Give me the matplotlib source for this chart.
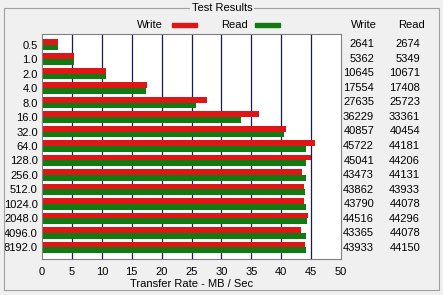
import matplotlib.pyplot as plt
from matplotlib.patches import Rectangle

# data (KB/s as shown in the table)
sizes = ['0.5', '1.0', '2.0', '4.0', '8.0', '16.0', '32.0', '64.0', '128.0',
         '256.0', '512.0', '1024.0', '2048.0', '4096.0', '8192.0']
write = [2641, 5362, 10645, 17554, 27635, 36229, 40857, 45722, 45041,
         43473, 43862, 43790, 44516, 43365, 43933]
read = [2674, 5349, 10671, 17408, 25723, 33361, 40454, 44181, 44206,
        44131, 43933, 44078, 44296, 44078, 44150]

FONT = ['Liberation Sans Narrow', 'Liberation Sans', 'DejaVu Sans']
plt.rcParams['font.family'] = FONT
plt.rcParams['font.size'] = 7.5

W, H = 443, 295
fig = plt.figure(figsize=(W / 100, H / 100), dpi=100, facecolor='#f0f0f0')

RED = '#e01515'
GREEN = '#117a11'

# group box
fig.add_artist(Rectangle((4 / W, 1 - 290 / H), 435 / W, 282 / H, transform=fig.transFigure,
                         fill=False, edgecolor='#a0a0a0', linewidth=0.8))
fig.text(222 / W, 1 - 8 / H, 'Test Results', ha='center', va='center', fontsize=8,
         bbox=dict(facecolor='#f0f0f0', edgecolor='none', pad=1))

# main plot
ax = fig.add_axes([42 / W, 1 - 259 / H, 299 / W, 225 / H])
ax.set_facecolor('white')
y = list(range(len(sizes)))
ax.barh([i - 0.2 for i in y], [v / 1000 for v in write], height=0.4, color=RED, zorder=2)
ax.barh([i + 0.2 for i in y], [v / 1000 for v in read], height=0.4, color=GREEN, zorder=2)
ax.set_xlim(0, 50)
ax.set_ylim(len(sizes) - 0.2, -0.73)
ax.set_xticks(range(0, 51, 5))
ax.set_yticks(y)
ax.set_yticklabels(sizes, fontsize=8)
ax.tick_params(length=0, labelsize=8)
ax.tick_params(axis='x', pad=6)
ax.tick_params(axis='y', pad=3)
for x in range(5, 50, 5):
    ax.axvline(x, color='#1a1a50', linewidth=0.9, zorder=1)
for s in ax.spines.values():
    s.set_color('#808080')
    s.set_linewidth(0.8)
ax.set_xlabel('Transfer Rate - MB / Sec', fontsize=8, labelpad=1)

# legend
fig.text(163 / W, 1 - 25 / H, 'Write', ha='right', va='center', fontsize=8)
fig.add_artist(Rectangle((172 / W, 1 - 27 / H), 25 / W, 4 / H, transform=fig.transFigure, color=RED))
fig.text(248 / W, 1 - 25 / H, 'Read', ha='right', va='center', fontsize=8)
fig.add_artist(Rectangle((255 / W, 1 - 27 / H), 25 / W, 4 / H, transform=fig.transFigure, color=GREEN))

# table on the right
fig.text(377 / W, 1 - 25 / H, 'Write', ha='right', va='center', fontsize=8)
fig.text(425 / W, 1 - 25 / H, 'Read', ha='right', va='center', fontsize=8)
for i in y:
    yy = 1 - (44 + i * 14.57) / H
    fig.text(374 / W, yy, str(write[i]), ha='right', va='center', fontsize=8)
    fig.text(420 / W, yy, str(read[i]), ha='right', va='center', fontsize=8)

fig.savefig('out.png', dpi=100, facecolor=fig.get_facecolor())
